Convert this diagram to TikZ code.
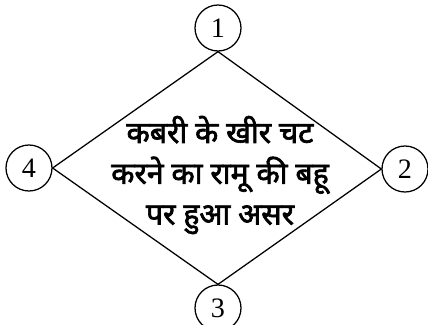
\documentclass[tikz,border=0pt]{standalone}
\usepackage{fontspec}
\setmainfont{Liberation Serif}
\newfontfamily\hindi[Script=Devanagari, FakeBold=2.2]{Noto Sans}
\usetikzlibrary{positioning}

\begin{document}
\begin{tikzpicture}[x=0.025cm, y=-0.025cm,
  num/.style={circle, draw=black, line width=0.9pt, minimum size=1.15cm, inner sep=0pt, font=\fontsize{20}{20}\selectfont},
  centre/.style={align=center, font=\hindi\fontsize{21.5}{29}\selectfont, inner sep=0pt},
  edge/.style={line width=0.9pt}]

\useasboundingbox (0,0) rectangle (428,324);

% Corners
\node[num] (c1) at (218,28) {1};
\node[num] (c2) at (405,169) {2};
\node[num] (c3) at (218,308) {3};
\node[num] (c4) at (29,168) {4};

% Text in the middle
\node[centre] (mid) at (220,175) {कबरी के खीर चट\\करने का रामू की बहू\\पर हुआ असर};

% Diamond
\draw[edge] (c1.south) -- (c2.west) -- (c3.north) -- (c4.east) -- cycle;

\end{tikzpicture}
\end{document}
